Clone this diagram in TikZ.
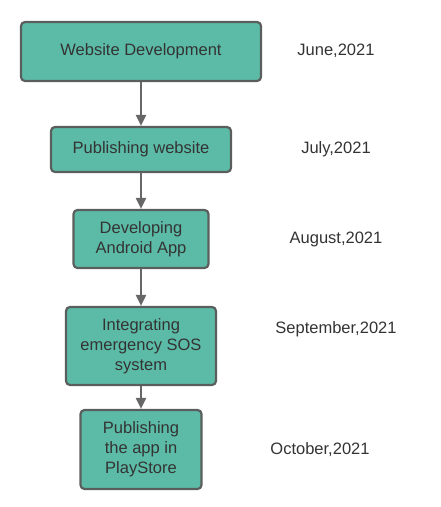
\documentclass[tikz,border=0pt]{standalone}
\usepackage{fontspec}
\setmainfont{Liberation Sans}
\usetikzlibrary{arrows.meta}
\definecolor{boxfill}{HTML}{5CBBA7}
\definecolor{boxline}{HTML}{5A5F5E}
\definecolor{txt}{HTML}{333333}
\definecolor{arr}{HTML}{676767}
\begin{document}
\begin{tikzpicture}[x=1pt,y=-1pt,
  stepbox/.style={draw=boxline, fill=boxfill, line width=2.2pt, rounded corners=4pt,
    text=txt, align=center, inner sep=0pt, font=\fontsize{16.5}{20}\selectfont},
  datelabel/.style={text=txt, inner sep=0pt, font=\fontsize{16.5}{20}\selectfont},
  flow/.style={draw=arr, line width=2pt, -{Triangle[length=11pt,width=10pt]}}]
\useasboundingbox (0,0) rectangle (440,507);
\node[stepbox, minimum width=240pt, minimum height=59pt] (s1) at (141,51.5) {Website Development};
\node[stepbox, minimum width=180pt, minimum height=45pt] (s2) at (141,149.5) {Publishing website};
\node[stepbox, minimum width=135pt, minimum height=58pt] (s3) at (141,239) {Developing\\Android App};
\node[stepbox, minimum width=150pt, minimum height=78pt] (s4) at (141,346) {Integrating\\emergency SOS\\system};
\node[stepbox, minimum width=121pt, minimum height=79pt] (s5) at (141,449.5) {Publishing\\the app in\\PlayStore};
\node[datelabel] (d1) at (336,51) {June,2021};
\node[datelabel] (d2) at (336,149.5) {July,2021};
\node[datelabel] (d3) at (336,239.5) {August,2021};
\node[datelabel] (d4) at (336,329.5) {September,2021};
\node[datelabel] (d5) at (320,449.5) {October,2021};
\draw[flow] (s1.south) -- (s2.north);
\draw[flow] (s2.south) -- (s3.north);
\draw[flow] (s3.south) -- (s4.north);
\draw[flow] (s4.south) -- (s5.north);
\end{tikzpicture}
\end{document}
